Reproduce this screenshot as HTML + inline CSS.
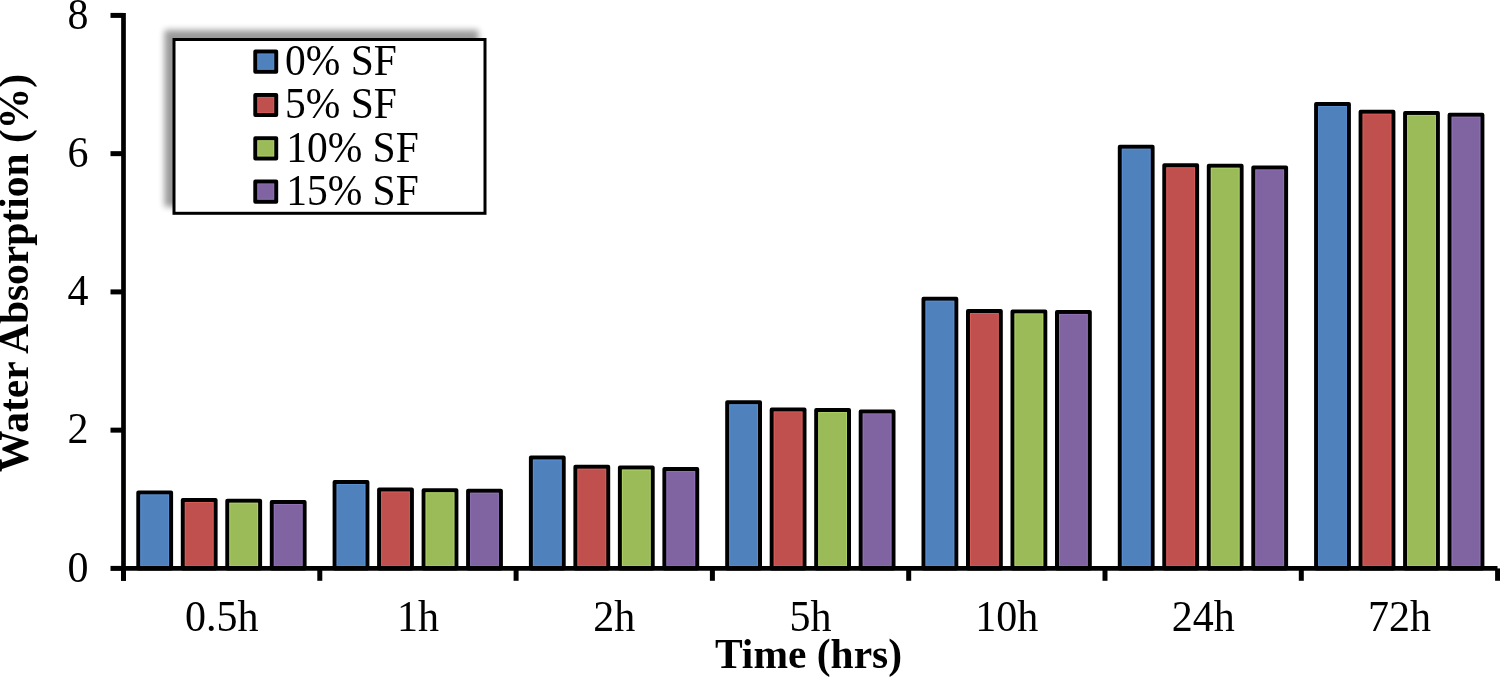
<!DOCTYPE html>
<html><head><meta charset="utf-8"><style>
html,body{margin:0;padding:0;background:#fff;}
body{width:1500px;height:677px;overflow:hidden;}
svg{display:block;opacity:0.999;}
.t{font-family:"Liberation Serif",serif;font-size:42px;fill:#000;}
.l{font-family:"Liberation Serif",serif;font-size:41.5px;fill:#000;}
.b{font-family:"Liberation Serif",serif;font-size:41.5px;font-weight:bold;fill:#000;}
</style></head><body>
<svg width="1500" height="677" viewBox="0 0 1500 677">
<defs><filter id="sh" x="-20%" y="-20%" width="140%" height="140%"><feGaussianBlur in="SourceAlpha" stdDeviation="3"/><feOffset dx="-8" dy="-8" result="o"/><feComponentTransfer><feFuncA type="linear" slope="0.4"/></feComponentTransfer></filter></defs>
<rect x="174" y="39.5" width="311" height="173.8" fill="#fff" stroke="#000" stroke-width="3" filter="url(#sh)"/>
<rect x="174" y="39.5" width="311" height="173.8" fill="#fff" stroke="#000" stroke-width="3"/>
<rect x="255.3" y="51.60" width="20.9" height="20.2" fill="#4F81BD" stroke="#000" stroke-width="4" stroke-linejoin="round"/>
<rect x="257.8" y="54.10" width="15.9" height="15.2" fill="none" stroke="#5E95DA" stroke-width="1" stroke-opacity="0.6"/>
<text transform="translate(285.00 74.90) scale(1 1.06)" class="l">0% SF</text>
<rect x="255.3" y="94.90" width="20.9" height="20.2" fill="#C0504D" stroke="#000" stroke-width="4" stroke-linejoin="round"/>
<rect x="257.8" y="97.40" width="15.9" height="15.2" fill="none" stroke="#E06260" stroke-width="1" stroke-opacity="0.6"/>
<text transform="translate(285.00 118.20) scale(1 1.06)" class="l">5% SF</text>
<rect x="255.3" y="138.20" width="20.9" height="20.2" fill="#9BBB59" stroke="#000" stroke-width="4" stroke-linejoin="round"/>
<rect x="257.8" y="140.70" width="15.9" height="15.2" fill="none" stroke="#B4D86A" stroke-width="1" stroke-opacity="0.6"/>
<text transform="translate(286.20 161.50) scale(1 1.06)" class="l">10% SF</text>
<rect x="255.3" y="181.50" width="20.9" height="20.2" fill="#8064A2" stroke="#000" stroke-width="4" stroke-linejoin="round"/>
<rect x="257.8" y="184.00" width="15.9" height="15.2" fill="none" stroke="#9677BF" stroke-width="1" stroke-opacity="0.6"/>
<text transform="translate(286.20 204.80) scale(1 1.06)" class="l">15% SF</text>
<rect x="138.30" y="492.40" width="32.80" height="76.00" fill="#4F81BD" stroke="#000" stroke-width="4" stroke-linejoin="round"/>
<rect x="140.80" y="494.90" width="27.80" height="71.10" fill="none" stroke="#5E95DA" stroke-width="1" stroke-opacity="0.7"/>
<rect x="182.80" y="500.00" width="32.80" height="68.40" fill="#C0504D" stroke="#000" stroke-width="4" stroke-linejoin="round"/>
<rect x="185.30" y="502.50" width="27.80" height="63.50" fill="none" stroke="#E06260" stroke-width="1" stroke-opacity="0.7"/>
<rect x="227.30" y="500.70" width="32.80" height="67.70" fill="#9BBB59" stroke="#000" stroke-width="4" stroke-linejoin="round"/>
<rect x="229.80" y="503.20" width="27.80" height="62.80" fill="none" stroke="#B4D86A" stroke-width="1" stroke-opacity="0.7"/>
<rect x="271.80" y="502.00" width="32.80" height="66.40" fill="#8064A2" stroke="#000" stroke-width="4" stroke-linejoin="round"/>
<rect x="274.30" y="504.50" width="27.80" height="61.50" fill="none" stroke="#9677BF" stroke-width="1" stroke-opacity="0.7"/>
<rect x="334.60" y="482.00" width="32.80" height="86.40" fill="#4F81BD" stroke="#000" stroke-width="4" stroke-linejoin="round"/>
<rect x="337.10" y="484.50" width="27.80" height="81.50" fill="none" stroke="#5E95DA" stroke-width="1" stroke-opacity="0.7"/>
<rect x="379.10" y="489.60" width="32.80" height="78.80" fill="#C0504D" stroke="#000" stroke-width="4" stroke-linejoin="round"/>
<rect x="381.60" y="492.10" width="27.80" height="73.90" fill="none" stroke="#E06260" stroke-width="1" stroke-opacity="0.7"/>
<rect x="423.60" y="490.30" width="32.80" height="78.10" fill="#9BBB59" stroke="#000" stroke-width="4" stroke-linejoin="round"/>
<rect x="426.10" y="492.80" width="27.80" height="73.20" fill="none" stroke="#B4D86A" stroke-width="1" stroke-opacity="0.7"/>
<rect x="468.10" y="490.70" width="32.80" height="77.70" fill="#8064A2" stroke="#000" stroke-width="4" stroke-linejoin="round"/>
<rect x="470.60" y="493.20" width="27.80" height="72.80" fill="none" stroke="#9677BF" stroke-width="1" stroke-opacity="0.7"/>
<rect x="530.90" y="457.60" width="32.80" height="110.80" fill="#4F81BD" stroke="#000" stroke-width="4" stroke-linejoin="round"/>
<rect x="533.40" y="460.10" width="27.80" height="105.90" fill="none" stroke="#5E95DA" stroke-width="1" stroke-opacity="0.7"/>
<rect x="575.40" y="466.70" width="32.80" height="101.70" fill="#C0504D" stroke="#000" stroke-width="4" stroke-linejoin="round"/>
<rect x="577.90" y="469.20" width="27.80" height="96.80" fill="none" stroke="#E06260" stroke-width="1" stroke-opacity="0.7"/>
<rect x="619.90" y="467.60" width="32.80" height="100.80" fill="#9BBB59" stroke="#000" stroke-width="4" stroke-linejoin="round"/>
<rect x="622.40" y="470.10" width="27.80" height="95.90" fill="none" stroke="#B4D86A" stroke-width="1" stroke-opacity="0.7"/>
<rect x="664.40" y="469.10" width="32.80" height="99.30" fill="#8064A2" stroke="#000" stroke-width="4" stroke-linejoin="round"/>
<rect x="666.90" y="471.60" width="27.80" height="94.40" fill="none" stroke="#9677BF" stroke-width="1" stroke-opacity="0.7"/>
<rect x="727.20" y="402.30" width="32.80" height="166.10" fill="#4F81BD" stroke="#000" stroke-width="4" stroke-linejoin="round"/>
<rect x="729.70" y="404.80" width="27.80" height="161.20" fill="none" stroke="#5E95DA" stroke-width="1" stroke-opacity="0.7"/>
<rect x="771.70" y="409.40" width="32.80" height="159.00" fill="#C0504D" stroke="#000" stroke-width="4" stroke-linejoin="round"/>
<rect x="774.20" y="411.90" width="27.80" height="154.10" fill="none" stroke="#E06260" stroke-width="1" stroke-opacity="0.7"/>
<rect x="816.20" y="410.10" width="32.80" height="158.30" fill="#9BBB59" stroke="#000" stroke-width="4" stroke-linejoin="round"/>
<rect x="818.70" y="412.60" width="27.80" height="153.40" fill="none" stroke="#B4D86A" stroke-width="1" stroke-opacity="0.7"/>
<rect x="860.70" y="411.40" width="32.80" height="157.00" fill="#8064A2" stroke="#000" stroke-width="4" stroke-linejoin="round"/>
<rect x="863.20" y="413.90" width="27.80" height="152.10" fill="none" stroke="#9677BF" stroke-width="1" stroke-opacity="0.7"/>
<rect x="923.50" y="298.70" width="32.80" height="269.70" fill="#4F81BD" stroke="#000" stroke-width="4" stroke-linejoin="round"/>
<rect x="926.00" y="301.20" width="27.80" height="264.80" fill="none" stroke="#5E95DA" stroke-width="1" stroke-opacity="0.7"/>
<rect x="968.00" y="311.00" width="32.80" height="257.40" fill="#C0504D" stroke="#000" stroke-width="4" stroke-linejoin="round"/>
<rect x="970.50" y="313.50" width="27.80" height="252.50" fill="none" stroke="#E06260" stroke-width="1" stroke-opacity="0.7"/>
<rect x="1012.50" y="311.40" width="32.80" height="257.00" fill="#9BBB59" stroke="#000" stroke-width="4" stroke-linejoin="round"/>
<rect x="1015.00" y="313.90" width="27.80" height="252.10" fill="none" stroke="#B4D86A" stroke-width="1" stroke-opacity="0.7"/>
<rect x="1057.00" y="311.90" width="32.80" height="256.50" fill="#8064A2" stroke="#000" stroke-width="4" stroke-linejoin="round"/>
<rect x="1059.50" y="314.40" width="27.80" height="251.60" fill="none" stroke="#9677BF" stroke-width="1" stroke-opacity="0.7"/>
<rect x="1119.80" y="146.70" width="32.80" height="421.70" fill="#4F81BD" stroke="#000" stroke-width="4" stroke-linejoin="round"/>
<rect x="1122.30" y="149.20" width="27.80" height="416.80" fill="none" stroke="#5E95DA" stroke-width="1" stroke-opacity="0.7"/>
<rect x="1164.30" y="165.30" width="32.80" height="403.10" fill="#C0504D" stroke="#000" stroke-width="4" stroke-linejoin="round"/>
<rect x="1166.80" y="167.80" width="27.80" height="398.20" fill="none" stroke="#E06260" stroke-width="1" stroke-opacity="0.7"/>
<rect x="1208.80" y="165.70" width="32.80" height="402.70" fill="#9BBB59" stroke="#000" stroke-width="4" stroke-linejoin="round"/>
<rect x="1211.30" y="168.20" width="27.80" height="397.80" fill="none" stroke="#B4D86A" stroke-width="1" stroke-opacity="0.7"/>
<rect x="1253.30" y="167.40" width="32.80" height="401.00" fill="#8064A2" stroke="#000" stroke-width="4" stroke-linejoin="round"/>
<rect x="1255.80" y="169.90" width="27.80" height="396.10" fill="none" stroke="#9677BF" stroke-width="1" stroke-opacity="0.7"/>
<rect x="1316.10" y="104.00" width="32.80" height="464.40" fill="#4F81BD" stroke="#000" stroke-width="4" stroke-linejoin="round"/>
<rect x="1318.60" y="106.50" width="27.80" height="459.50" fill="none" stroke="#5E95DA" stroke-width="1" stroke-opacity="0.7"/>
<rect x="1360.60" y="111.70" width="32.80" height="456.70" fill="#C0504D" stroke="#000" stroke-width="4" stroke-linejoin="round"/>
<rect x="1363.10" y="114.20" width="27.80" height="451.80" fill="none" stroke="#E06260" stroke-width="1" stroke-opacity="0.7"/>
<rect x="1405.10" y="112.90" width="32.80" height="455.50" fill="#9BBB59" stroke="#000" stroke-width="4" stroke-linejoin="round"/>
<rect x="1407.60" y="115.40" width="27.80" height="450.60" fill="none" stroke="#B4D86A" stroke-width="1" stroke-opacity="0.7"/>
<rect x="1449.60" y="114.70" width="32.80" height="453.70" fill="#8064A2" stroke="#000" stroke-width="4" stroke-linejoin="round"/>
<rect x="1452.10" y="117.20" width="27.80" height="448.80" fill="none" stroke="#9677BF" stroke-width="1" stroke-opacity="0.7"/>
<line x1="123.5" y1="13" x2="123.5" y2="580.8" stroke="#000" stroke-width="4.7"/>
<line x1="121.15" y1="568.4" x2="1497.5" y2="568.4" stroke="#000" stroke-width="4.7"/>
<line x1="110.5" y1="568.40" x2="123.5" y2="568.40" stroke="#000" stroke-width="5"/>
<text transform="translate(78.00 581.70) scale(1 1.04)" text-anchor="middle" class="t">0</text>
<line x1="110.5" y1="430.15" x2="123.5" y2="430.15" stroke="#000" stroke-width="5"/>
<text transform="translate(78.00 443.45) scale(1 1.04)" text-anchor="middle" class="t">2</text>
<line x1="110.5" y1="291.90" x2="123.5" y2="291.90" stroke="#000" stroke-width="5"/>
<text transform="translate(78.00 305.20) scale(1 1.04)" text-anchor="middle" class="t">4</text>
<line x1="110.5" y1="153.65" x2="123.5" y2="153.65" stroke="#000" stroke-width="5"/>
<text transform="translate(78.00 166.95) scale(1 1.04)" text-anchor="middle" class="t">6</text>
<line x1="110.5" y1="15.40" x2="123.5" y2="15.40" stroke="#000" stroke-width="5"/>
<text transform="translate(78.00 28.70) scale(1 1.04)" text-anchor="middle" class="t">8</text>
<line x1="123.50" y1="568.4" x2="123.50" y2="580.8" stroke="#000" stroke-width="5"/>
<line x1="319.80" y1="568.4" x2="319.80" y2="580.8" stroke="#000" stroke-width="5"/>
<line x1="516.10" y1="568.4" x2="516.10" y2="580.8" stroke="#000" stroke-width="5"/>
<line x1="712.40" y1="568.4" x2="712.40" y2="580.8" stroke="#000" stroke-width="5"/>
<line x1="908.70" y1="568.4" x2="908.70" y2="580.8" stroke="#000" stroke-width="5"/>
<line x1="1105.00" y1="568.4" x2="1105.00" y2="580.8" stroke="#000" stroke-width="5"/>
<line x1="1301.30" y1="568.4" x2="1301.30" y2="580.8" stroke="#000" stroke-width="5"/>
<line x1="1497.60" y1="568.4" x2="1497.60" y2="580.8" stroke="#000" stroke-width="5"/>
<text transform="translate(221.65 630.60) scale(1 1.04)" text-anchor="middle" class="t">0.5h</text>
<text transform="translate(417.95 630.60) scale(1 1.04)" text-anchor="middle" class="t">1h</text>
<text transform="translate(614.25 630.60) scale(1 1.04)" text-anchor="middle" class="t">2h</text>
<text transform="translate(810.55 630.60) scale(1 1.04)" text-anchor="middle" class="t">5h</text>
<text transform="translate(1006.85 630.60) scale(1 1.04)" text-anchor="middle" class="t">10h</text>
<text transform="translate(1203.15 630.60) scale(1 1.04)" text-anchor="middle" class="t">24h</text>
<text transform="translate(1399.45 630.60) scale(1 1.04)" text-anchor="middle" class="t">72h</text>
<text x="808.5" y="668.2" text-anchor="middle" class="b">Time (hrs)</text>
<text transform="translate(27.6 273) rotate(-90)" text-anchor="middle" class="b">Water Absorption (%)</text>
</svg>
</body></html>
